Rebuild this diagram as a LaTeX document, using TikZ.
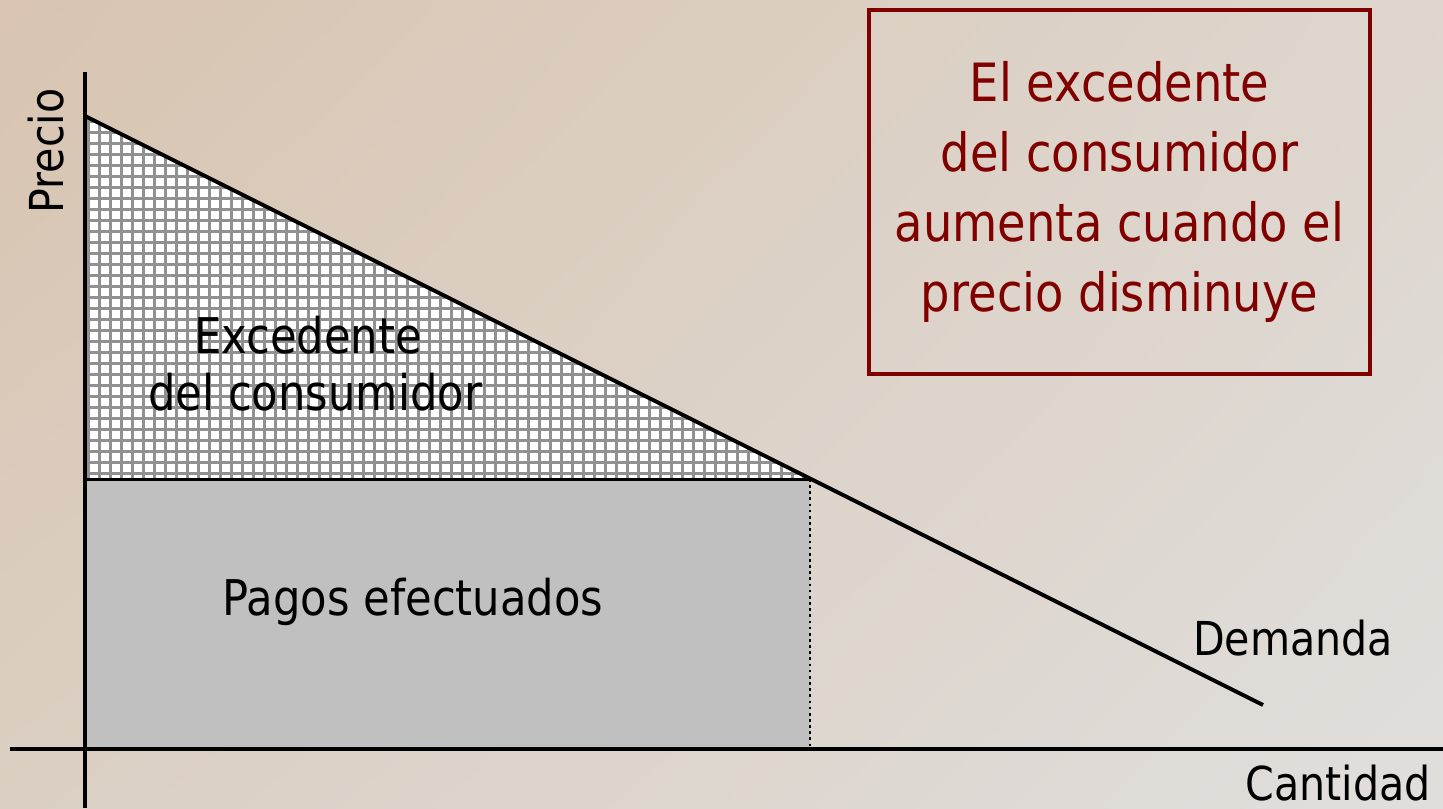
\documentclass[tikz,border=0pt]{standalone}
\usepackage{fontspec}
\setmainfont[FakeStretch=0.88]{DejaVu Sans}
\usetikzlibrary{positioning,shadings}
\definecolor{boxred}{RGB}{128,0,0}
\definecolor{bgtl}{RGB}{216,196,176}
\definecolor{bgtr}{RGB}{222,214,206}
\definecolor{bgbl}{RGB}{219,207,195}
\definecolor{bgbr}{RGB}{224,222,220}
\definecolor{paid}{RGB}{192,192,192}
\definecolor{meshline}{RGB}{145,145,145}

\begin{document}
\begin{tikzpicture}[x=0.01cm,y=-0.01cm,
    axis/.style={line width=1.1pt},
    lbl/.style={font=\fontsize{14}{16.5}\selectfont,inner sep=0pt,anchor=base},
    axlbl/.style={lbl,font=\fontsize{13.3}{16}\selectfont}]
  \useasboundingbox (0,0) rectangle (1443,808);
  \shade[upper left=bgtl,upper right=bgtr,lower left=bgbl,lower right=bgbr]
    (0,0) rectangle (1443,808);

  \coordinate (top) at (85,116);
  \coordinate (pq) at (85,479);
  \coordinate (eq) at (810,479);
  \coordinate (qe) at (810,749);
  \coordinate (dend) at (1263,705);

  % pagos
  \fill[paid] (pq) rectangle (qe);
  % excedente, cuadriculado
  \begin{scope}
    \clip (top) -- (pq) -- (eq) -- cycle;
    \fill[white] (top) -- (pq) -- (eq) -- cycle;
    \draw[meshline,line width=0.85pt,step=0.11cm] (80,100) grid (820,490);
  \end{scope}
  \draw[line width=0.85pt] (pq) -- (eq);
  \draw[densely dotted,line width=0.75pt] (eq) -- (qe);
  \draw[line width=1.1pt] (top) -- (dend);

  % ejes
  \draw[axis] (85,72) -- (85,808);
  \draw[axis] (10,749) -- (1443,749);

  \node[axlbl,rotate=90] (precio) at (63,151) {Precio};
  \node[lbl] (excedente) at (308,353) {Excedente};
  \node[lbl] (consumidor) at (315,410) {del consumidor};
  \node[lbl] (pagos) at (413,615) {Pagos efectuados};
  \node[axlbl] (demanda) at (1293,655) {Demanda};
  \node[axlbl] (cantidad) at (1338,800) {Cantidad};

  \node[draw=boxred,line width=1.2pt,text=boxred,align=center,
    minimum width=5.01cm,minimum height=3.64cm,
    font=\fontsize{15}{19.9}\selectfont] (nota) at (1119.5,192)
    {El excedente\\del consumidor\\aumenta cuando el\\precio disminuye};
\end{tikzpicture}
\end{document}
